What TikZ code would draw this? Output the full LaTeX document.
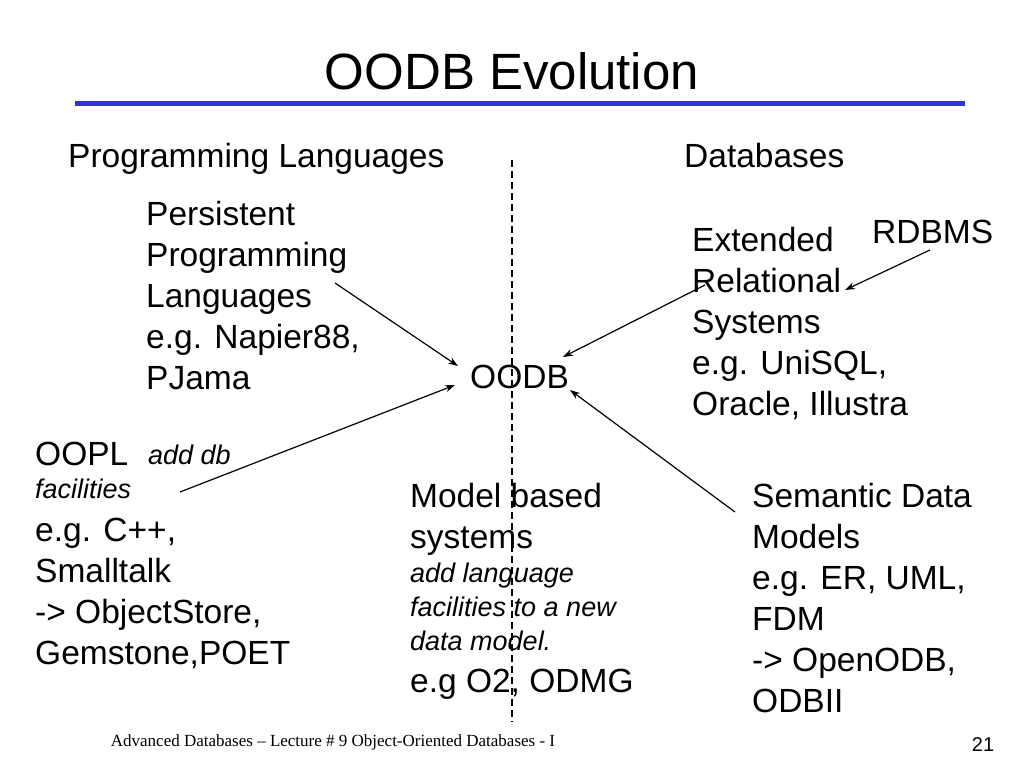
\documentclass[tikz,border=0pt]{standalone}
\usepackage{fontspec}
\setmainfont{Liberation Sans}
\newfontfamily\seriffont{Liberation Serif}
\usetikzlibrary{arrows.meta}
\begin{document}
\begin{tikzpicture}[x=1pt,y=-1pt,
  txt/.style={anchor=base west,align=left,inner sep=0pt,font=\fontsize{33.5}{41}\selectfont},
  sm/.style={anchor=base west,align=left,inner sep=0pt,font=\fontsize{27}{34}\selectfont\itshape},
  arr/.style={-{Stealth[length=10pt,width=7pt]},line width=1.2pt}]
\useasboundingbox (0,0) rectangle (1024,768);
\node[anchor=base,inner sep=0pt,font=\fontsize{51}{60}\selectfont] (title) at (512,89) {OODB Evolution};
\draw[line width=5pt,color={rgb,255:red,51;green,51;blue,204}] (75,103) -- (965,103);
\draw[dash pattern=on 7pt off 4pt,line width=1.2pt] (512,160) -- (512,722);
\node[txt] (pl) at (68,167) {Programming Languages};
\node[txt] (db) at (684,167) {Databases};
\node[txt] (ppl) at (146,389) {Persistent\\Programming\\Languages\\e.g. Napier88,\\PJama};
\node[txt] (ers) at (692,415) {Extended\\Relational\\Systems\\e.g. UniSQL,\\Oracle, Illustra};
\node[txt] (rdbms) at (872,243) {RDBMS};
\node[txt] (oodb) at (470,388) {OODB};
\node[txt] (oopl) at (35,465) {OOPL};
\node[sm] (adddb) at (148,464) {add db};
\node[sm] (fac) at (35,498) {facilities};
\node[txt] (ooplx) at (35,664) {e.g. C++,\\Smalltalk\\-> ObjectStore,\\Gemstone,POET};
\node[txt] (mbs) at (410,548) {Model based\\systems};
\node[sm] (mbsi) at (410,650) {add language\\facilities to a new\\data model.};
\node[txt] (mbsx) at (410,692) {e.g O2, ODMG};
\node[txt] (sdm) at (752,712) {Semantic Data\\Models\\e.g. ER, UML,\\FDM\\-> OpenODB,\\ODBII};
\node[anchor=base,inner sep=0pt,font=\seriffont\fontsize{17}{20}\selectfont] (foot) at (333,746) {Advanced Databases \textendash{} Lecture \# 9 Object-Oriented Databases - I};
\node[anchor=base,inner sep=0pt,font=\fontsize{20}{22}\selectfont] (num) at (983,751) {21};
\coordinate (a1) at (335,283); \coordinate (a1e) at (458,366);
\coordinate (a2) at (705,285); \coordinate (a2e) at (563,357);
\coordinate (a3) at (930,250); \coordinate (a3e) at (845,290);
\coordinate (a4) at (180,492); \coordinate (a4e) at (455,385);
\coordinate (a5) at (735,512); \coordinate (a5e) at (570,390);
\draw[arr] (a1) -- (a1e);
\draw[arr] (a2) -- (a2e);
\draw[arr] (a3) -- (a3e);
\draw[arr] (a4) -- (a4e);
\draw[arr] (a5) -- (a5e);
\end{tikzpicture}
\end{document}
